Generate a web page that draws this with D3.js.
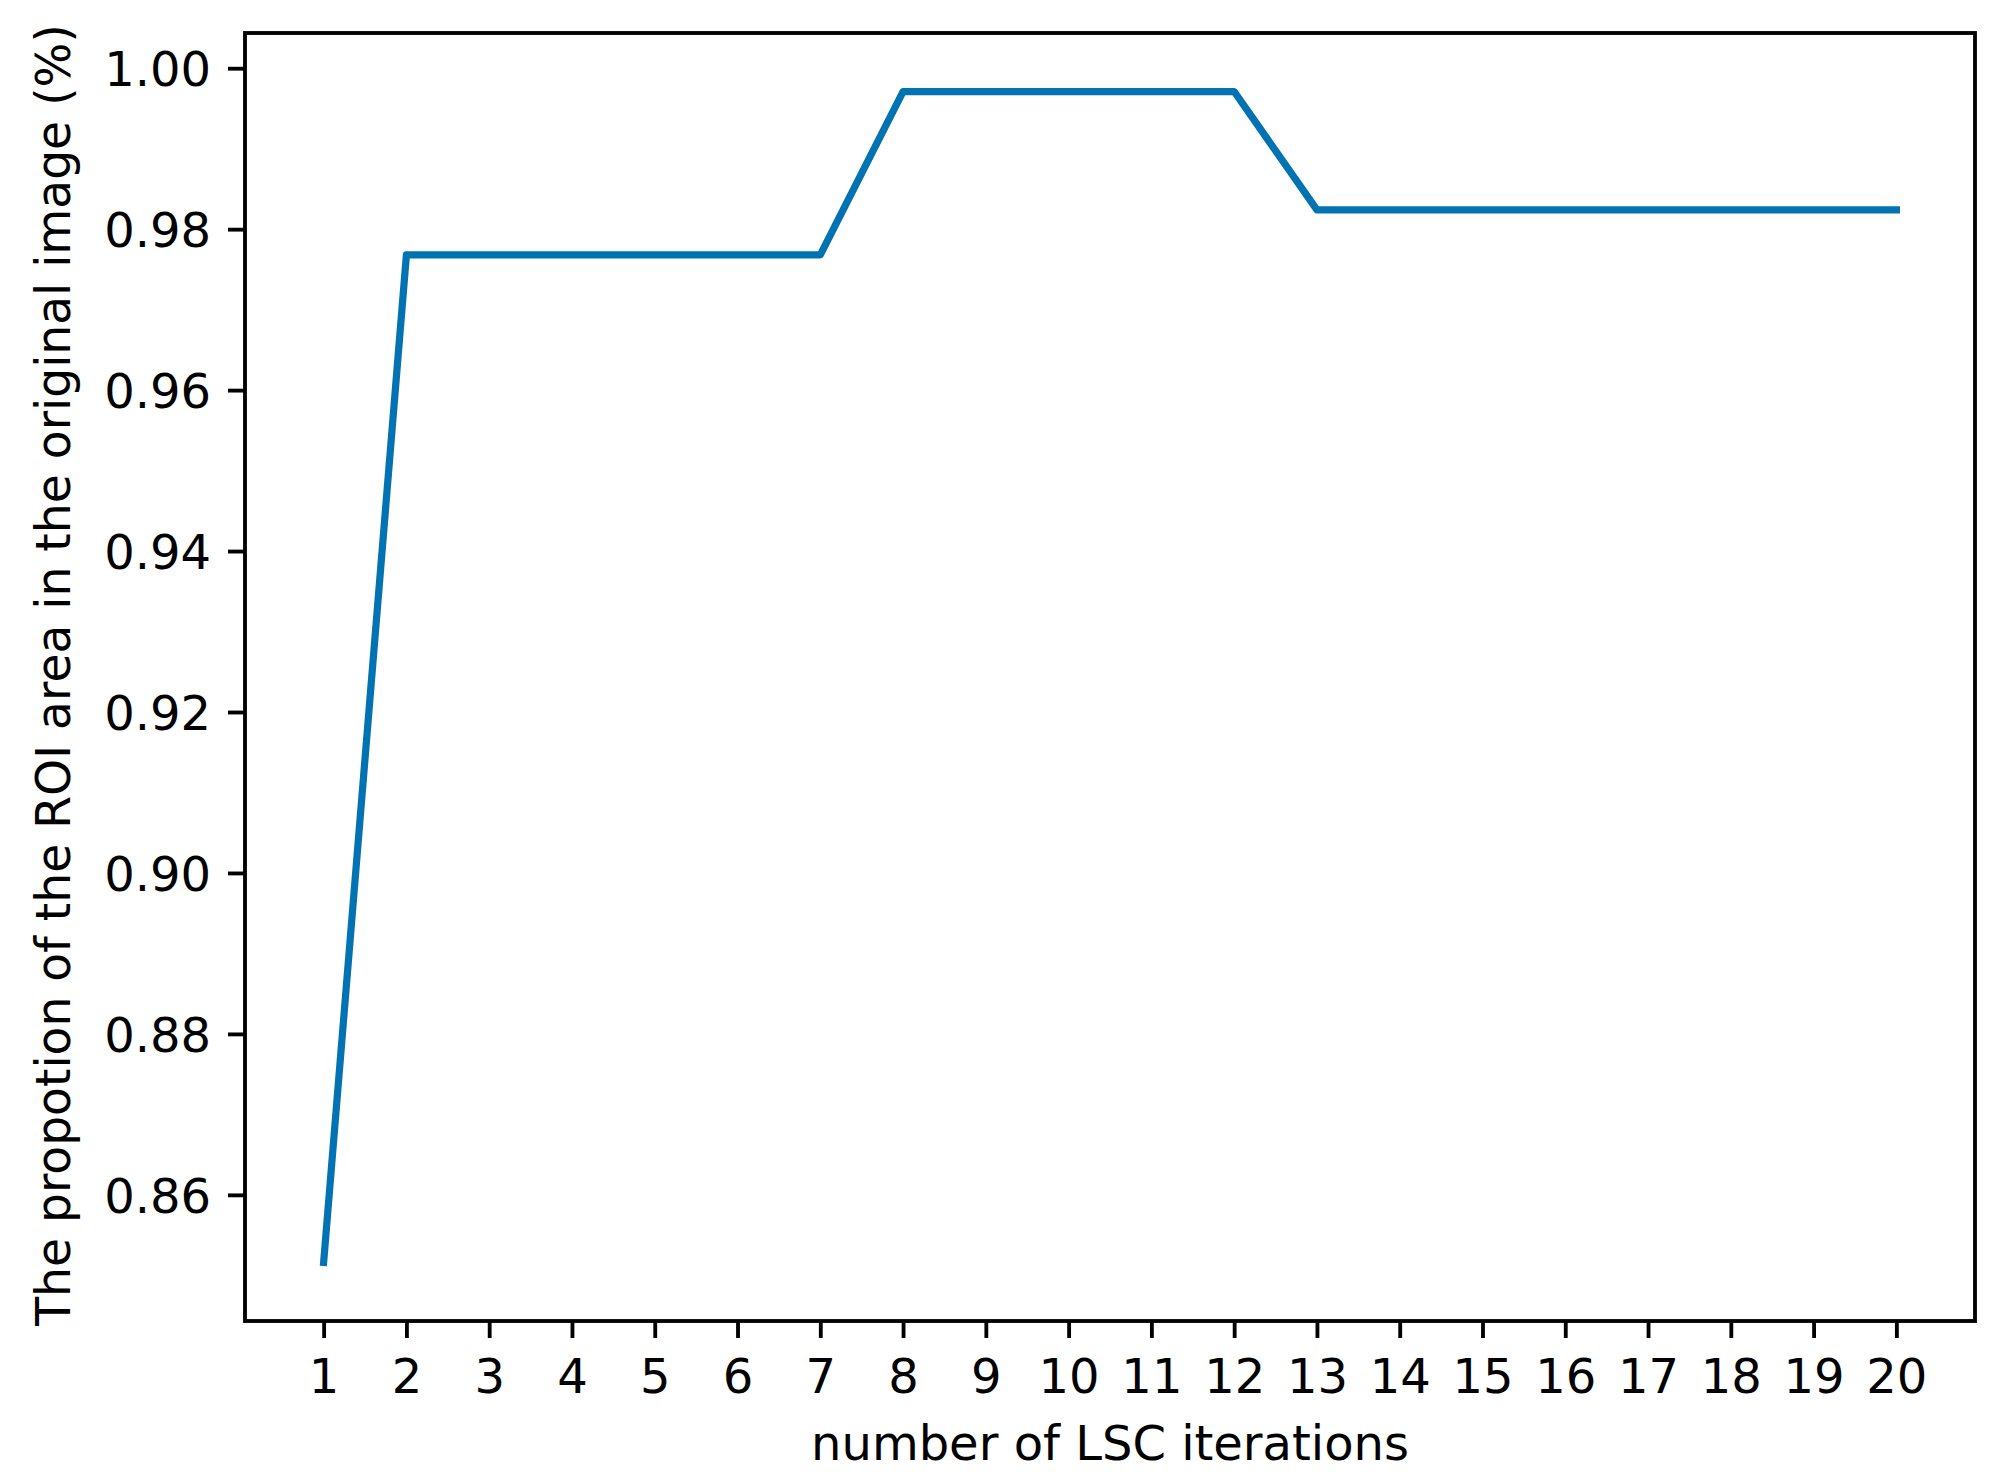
<!DOCTYPE html>
<html>
<head>
<meta charset="utf-8">
<script src="https://cdn.jsdelivr.net/npm/d3@7"></script>
<style>
  html, body { margin: 0; padding: 0; background: #fff; }
  svg { display: block; }
  text { font-family: "DejaVu Sans", sans-serif; fill: #000; }
</style>
</head>
<body>
<svg id="chart" width="2008" height="1484"></svg>
<script>
// Data
const iterations = [1, 2, 3, 4, 5, 6, 7, 8, 9, 10, 11, 12, 13, 14, 15, 16, 17, 18, 19, 20];
const proportion = [0.8516, 0.9768, 0.9768, 0.9768, 0.9768, 0.9768, 0.9768,
                    0.9971, 0.9971, 0.9971, 0.9971, 0.9971,
                    0.9824, 0.9824, 0.9824, 0.9824, 0.9824, 0.9824, 0.9824, 0.9824];
const yTicks = [0.86, 0.88, 0.90, 0.92, 0.94, 0.96, 0.98, 1.00];
const xTicks = iterations;
const xLabel = "number of LSC iterations";
const yLabel = "The propotion of the ROI area in the original image (%)";

// Layout
const plotLeft = 245, plotRight = 1975, plotTop = 33, plotBottom = 1321;
const svg = d3.select("#chart");

const xMin = d3.min(iterations), xMax = d3.max(iterations);
const xPad = (xMax - xMin) * 0.05;
const x = d3.scaleLinear().domain([xMin - xPad, xMax + xPad]).range([plotLeft, plotRight]);

const yMin = d3.min(proportion), yMax = d3.max(proportion);
const yPad = (yMax - yMin) * 0.05;
const y = d3.scaleLinear().domain([yMin - yPad, yMax + yPad]).range([plotBottom, plotTop]);

const axisW = 3.84;
const tickLen = 17;

// X axis
const gx = svg.append("g").attr("transform", `translate(0,${plotBottom})`)
  .call(d3.axisBottom(x).tickValues(xTicks).tickSize(tickLen).tickSizeOuter(0).tickFormat(d3.format("d")));
gx.select(".domain").remove();
gx.selectAll(".tick line").attr("stroke", "#000").attr("stroke-width", axisW);
gx.selectAll(".tick text").attr("y", 72).attr("dy", 0).attr("font-size", 48)
  .style("font-family", "DejaVu Sans, sans-serif");

// Y axis
const gy = svg.append("g").attr("transform", `translate(${plotLeft},0)`)
  .call(d3.axisLeft(y).tickValues(yTicks).tickSize(tickLen).tickSizeOuter(0).tickFormat(d3.format(".2f")));
gy.select(".domain").remove();
gy.selectAll(".tick line").attr("stroke", "#000").attr("stroke-width", axisW);
gy.selectAll(".tick text").attr("x", -34).attr("dy", "0.36em").attr("font-size", 48)
  .style("font-family", "DejaVu Sans, sans-serif");

// Line
const line = d3.line().x((d, i) => x(iterations[i])).y(d => y(d));
svg.append("path")
  .datum(proportion)
  .attr("d", line)
  .attr("fill", "none")
  .attr("stroke", "#0173b2")
  .attr("stroke-width", 7.2)
  .attr("stroke-linejoin", "round")
  .attr("stroke-linecap", "square");

// Frame
svg.append("rect")
  .attr("x", plotLeft).attr("y", plotTop)
  .attr("width", plotRight - plotLeft).attr("height", plotBottom - plotTop)
  .attr("fill", "none").attr("stroke", "#000").attr("stroke-width", axisW);

// Axis labels
svg.append("text")
  .attr("x", (plotLeft + plotRight) / 2).attr("y", 1460)
  .attr("text-anchor", "middle").attr("font-size", 48)
  .text(xLabel);

svg.append("text")
  .attr("transform", `translate(70,675) rotate(-90)`)
  .attr("text-anchor", "middle").attr("font-size", 47.2)
  .text(yLabel);
</script>
</body>
</html>
